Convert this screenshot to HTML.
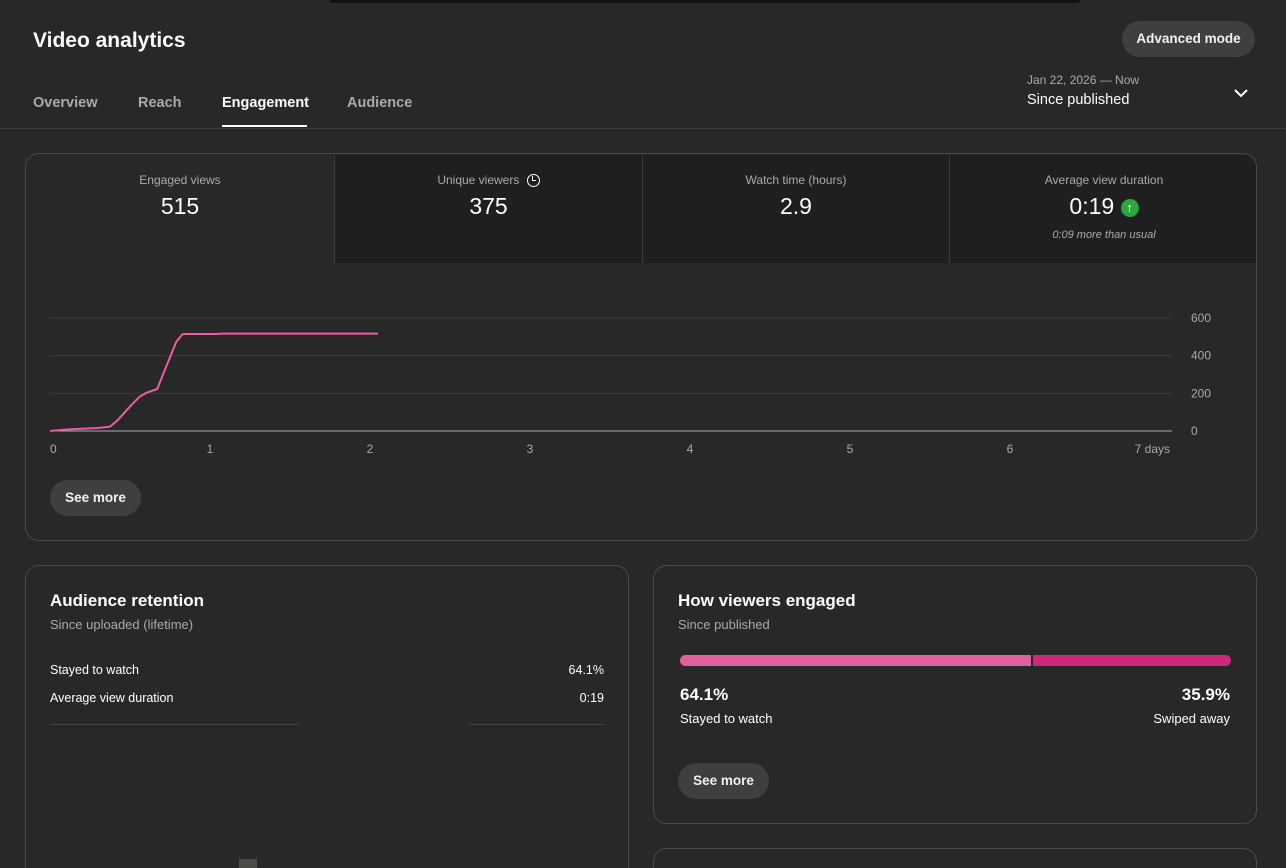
<!DOCTYPE html>
<html style="width:1286px;height:868px;overflow:hidden"><head><meta charset="utf-8">
<style>
*{box-sizing:border-box;margin:0;padding:0}
body{width:1286px;height:868px;background:#282828;color:#fff;font-family:"Liberation Sans",sans-serif;position:relative;overflow:hidden}
.a{position:absolute}
.card{position:absolute;border:1px solid #4a4a4a;border-radius:14px;background:#282828}
.btn{position:absolute;background:#3f3f3f;border-radius:18px;color:#f1f1f1;font-weight:bold;font-size:13.5px;text-align:center;line-height:36px}
.tab{position:absolute;top:95px;font-size:14.5px;font-weight:bold;color:#aaa}
.tile{position:absolute;top:1px;height:108px;text-align:center;background:#1f1f1f;border-left:1px solid #3a3a3a}
.tile .l{font-size:12px;color:#aaa;margin-top:18px}
.tile .v{font-size:23px;color:#fff;margin-top:6px}
</style></head><body>
<div class="a" style="left:330px;top:0;width:750px;height:3px;background:#111;border-radius:0 0 6px 6px"></div>
<div class="a" style="left:33px;top:29px;font-size:21px;font-weight:bold">Video analytics</div>
<div class="btn" style="left:1122px;top:21px;width:133px">Advanced mode</div>
<div class="tab" style="left:33px">Overview</div>
<div class="tab" style="left:138px">Reach</div>
<div class="tab" style="left:222px;color:#fff">Engagement</div>
<div class="a" style="left:222px;top:125px;width:85px;height:2px;background:#fff"></div>
<div class="tab" style="left:347px">Audience</div>
<div class="a" style="left:1027px;top:73px;width:230px;height:40px">
<div style="font-size:12px;color:#aaa">Jan 22, 2026 — Now</div>
<div style="font-size:14.5px;margin-top:5px">Since published</div>
<svg class="a" style="left:206px;top:14px" width="16" height="12"><path d="M2 3l6 6 6-6" stroke="#fff" stroke-width="2" fill="none"/></svg>
</div>
<div class="a" style="left:0;top:128px;width:1286px;height:1px;background:#3a3a3a"></div>

<div class="card" style="left:25px;top:153px;width:1232px;height:388px;overflow:hidden">
<div class="tile" style="left:0;width:308px;background:#282828;border-left:none"><div class="l">Engaged views</div><div class="v">515</div></div>
<div class="tile" style="left:308px;width:308px"><div class="l">Unique viewers <span style="display:inline-block;width:13px;height:13px;border:1.5px solid #fff;border-radius:50%;vertical-align:-3px;margin-left:4px;position:relative"><span style="position:absolute;left:4px;top:1px;width:4px;height:5px;border-left:1.5px solid #fff;border-bottom:1.5px solid #fff"></span></span></div><div class="v">375</div></div>
<div class="tile" style="left:616px;width:307px"><div class="l">Watch time (hours)</div><div class="v">2.9</div></div>
<div class="tile" style="left:923px;width:309px"><div class="l">Average view duration</div><div class="v">0:19 <span style="display:inline-block;width:18px;height:18px;border-radius:50%;background:#2ba640;font-size:13px;line-height:18px;vertical-align:2px;font-weight:bold">↑</span></div><div style="font-size:11px;font-style:italic;color:#aaa;margin-top:9px">0:09 more than usual</div></div>
</div>
<svg class="a" style="left:0;top:0" width="1286" height="868" id="chart"></svg>
<div class="btn" style="left:50px;top:480px;width:91px">See more</div>

<div class="card" style="left:25px;top:565px;width:604px;height:340px">
<div class="a" style="left:24px;top:25px;font-size:17px;font-weight:bold">Audience retention</div>
<div class="a" style="left:24px;top:51px;font-size:13px;color:#aaa">Since uploaded (lifetime)</div>
<div class="a" style="left:24px;top:97px;font-size:12.5px">Stayed to watch</div>
<div class="a" style="right:24px;top:97px;font-size:12.5px">64.1%</div>
<div class="a" style="left:24px;top:125px;font-size:12.5px">Average view duration</div>
<div class="a" style="right:24px;top:125px;font-size:12.5px">0:19</div>
<div class="a" style="left:24px;top:158px;width:249px;height:1px;background:#444"></div>
<div class="a" style="left:443px;top:158px;width:135px;height:1px;background:#444"></div>
<div class="a" style="left:213px;top:293px;width:18px;height:12px;background:#4a4c48"></div>
</div>

<div class="card" style="left:653px;top:565px;width:604px;height:259px">
<div class="a" style="left:24px;top:25px;font-size:17px;font-weight:bold">How viewers engaged</div>
<div class="a" style="left:24px;top:51px;font-size:13px;color:#aaa">Since published</div>
<div class="a" style="left:26px;top:89px;width:351px;height:11px;background:#e0609f;border-radius:6px 0 0 6px"></div>
<div class="a" style="left:379px;top:89px;width:198px;height:11px;background:#cc2a78;border-radius:0 6px 6px 0"></div>
<div class="a" style="left:26px;top:119px;font-size:17px;font-weight:bold">64.1%</div>
<div class="a" style="left:26px;top:145px;font-size:13px">Stayed to watch</div>
<div class="a" style="right:26px;top:119px;font-size:17px;font-weight:bold">35.9%</div>
<div class="a" style="right:26px;top:145px;font-size:13px">Swiped away</div>
<div class="btn" style="left:24px;top:197px;width:91px">See more</div>
</div>
<div class="card" style="left:653px;top:848px;width:604px;height:60px"></div>

<script>
const days=[0,0.06,0.19,0.3,0.375,0.42,0.5,0.56,0.6,0.67,0.71,0.79,0.83,1.04,1.08,2.05];
const views=[0,5,12,16,23,55,130,182,202,223,308,475,515,515,517,517];
const yTicks=[0,200,400,600];
const xTicks=[0,1,2,3,4,5,6,7];
const NS="http://www.w3.org/2000/svg";
const svg=document.getElementById('chart');
const X=d=>50+d*160, Y=v=>431-v*113/600;
function mk(t,a){const e=document.createElementNS(NS,t);for(const k in a)e.setAttribute(k,a[k]);svg.appendChild(e);return e;}
yTicks.forEach(v=>{
 const l=mk('line',{x1:50,x2:1172,y1:Y(v),y2:Y(v),stroke:v===0?'#aaa':'#3a3a3a','stroke-width':1});
 
 
 const t=mk('text',{x:1191,y:Y(v)+4,fill:'#aaa','font-size':12,'font-family':'Liberation Sans'});
 t.textContent=v;
 
 
});
xTicks.forEach(d=>{
 const t=mk('text',{x:X(d),y:453,fill:'#aaa','font-size':12,'font-family':'Liberation Sans','text-anchor':d===7?'end':'middle'});
 t.textContent=d===7?'7 days':d;
 if(d===0)t.setAttribute('x',50);
 if(d===0)t.setAttribute('text-anchor','start');
 
 
});
const p=mk('polyline',{points:days.map((d,i)=>X(d)+','+Y(views[i])).join(' '),fill:'none',stroke:'#ec5ca6','stroke-width':2,'stroke-linejoin':'round'});


</script>
</body></html>
